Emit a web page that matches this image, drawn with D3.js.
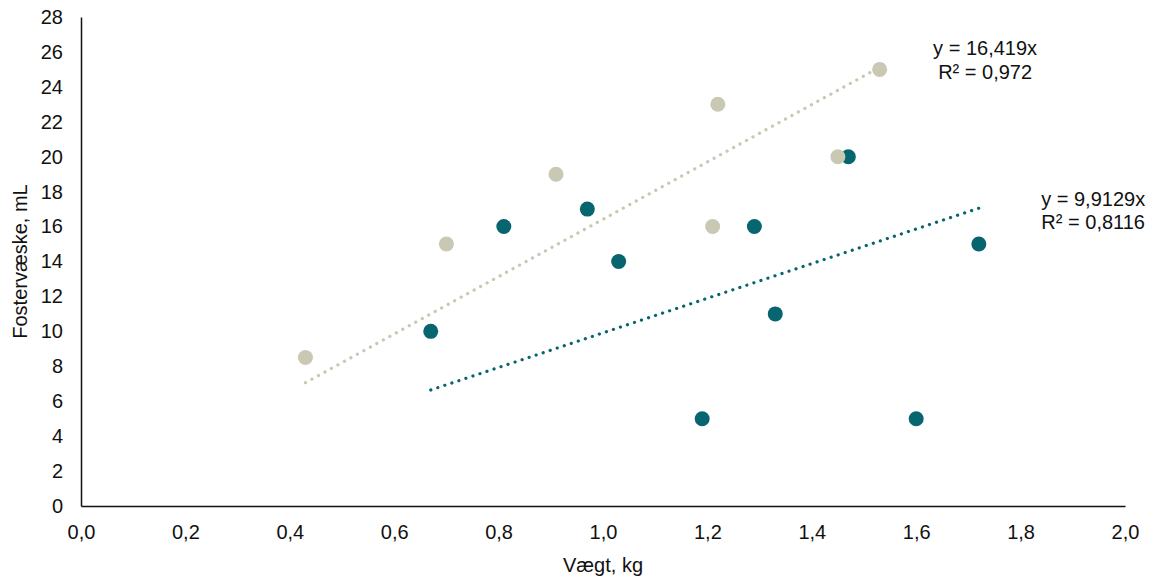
<!DOCTYPE html>
<html>
<head>
<meta charset="utf-8">
<script src="https://cdn.jsdelivr.net/npm/d3@7"></script>
<style>
  body { margin: 0; background: #fff; }
  text { font-family: "Liberation Sans", Arial, sans-serif; fill: #111; }
</style>
</head>
<body>
<div id="chart"></div>
<script>
// data
const beigeX = [0.43, 0.70, 0.91, 1.21, 1.22, 1.45, 1.53];
const beigeY = [8.5, 15, 19, 16, 23, 20, 25];
const tealX = [0.67, 0.81, 0.97, 1.03, 1.19, 1.29, 1.33, 1.47, 1.60, 1.72];
const tealY = [10, 16, 17, 14, 5, 16, 11, 20, 5, 15];
const beigeSlope = 16.419, beigeR2 = "0,972";
const tealSlope = 9.9129, tealR2 = "0,8116";
const xTicks = [0, 0.2, 0.4, 0.6, 0.8, 1.0, 1.2, 1.4, 1.6, 1.8, 2.0];
const yTicks = d3.range(0, 29, 2);

const width = 1158, height = 577;
const margin = { top: 17, right: 33, bottom: 71, left: 81 };
const beige = "#c9c8b3", teal = "#076570";
const fs = 20;

const svg = d3.select("#chart").append("svg")
  .attr("width", width).attr("height", height);

const x = d3.scaleLinear().domain([0, 2]).range([margin.left, width - margin.right]);
const y = d3.scaleLinear().domain([0, 28]).range([height - margin.bottom, margin.top]);

const comma = d => d3.format(".1f")(d).replace(".", ",");

// axes (no tick marks, only labels)
svg.append("g").attr("transform", `translate(0,${y(0)})`)
  .call(d3.axisBottom(x).tickValues(xTicks).tickFormat(comma).tickSize(0).tickPadding(19))
  .call(g => g.select(".domain").attr("stroke", "#111").attr("stroke-width", 1.5))
  .call(g => g.selectAll("text").attr("font-size", fs).attr("fill", "#111")
    .attr("font-family", "Liberation Sans, Arial, sans-serif"));

svg.append("g").attr("transform", `translate(${x(0)},0)`)
  .call(d3.axisLeft(y).tickValues(yTicks).tickSize(0).tickPadding(18))
  .call(g => g.select(".domain").attr("stroke", "#111").attr("stroke-width", 1.5))
  .call(g => g.selectAll("text").attr("font-size", fs).attr("fill", "#111")
    .attr("font-family", "Liberation Sans, Arial, sans-serif"));

// axis titles
svg.append("text").attr("x", (x(0) + x(2)) / 2).attr("y", 572)
  .attr("text-anchor", "middle").attr("font-size", fs).text("Vægt, kg");
svg.append("text").attr("transform", `translate(27,${(y(0) + y(28)) / 2}) rotate(-90)`)
  .attr("text-anchor", "middle").attr("font-size", fs).text("Fostervæske, mL");

// trendlines through the origin, from min x to max x of each series
const trend = (xs, slope, color) => {
  const x0 = d3.min(xs), x1 = d3.max(xs);
  svg.append("line")
    .attr("x1", x(x0)).attr("y1", y(slope * x0))
    .attr("x2", x(x1)).attr("y2", y(slope * x1))
    .attr("stroke", color).attr("stroke-width", 3.2)
    .attr("stroke-linecap", "round").attr("stroke-dasharray", "0.1,7.3");
};
trend(tealX, tealSlope, teal);
trend(beigeX, beigeSlope, beige);

// points
svg.append("g").selectAll("circle").data(d3.zip(tealX, tealY)).join("circle")
  .attr("cx", d => x(d[0])).attr("cy", d => y(d[1])).attr("r", 7.5).attr("fill", teal);
svg.append("g").selectAll("circle").data(d3.zip(beigeX, beigeY)).join("circle")
  .attr("cx", d => x(d[0])).attr("cy", d => y(d[1])).attr("r", 7.5).attr("fill", beige);

// trendline equations
const label = (cx, cy, lines) => {
  const t = svg.append("text").attr("text-anchor", "middle").attr("font-size", fs);
  lines.forEach((s, i) => t.append("tspan").attr("x", cx).attr("y", cy + i * 23.5).text(s));
};
label(x(1.732), y(25.82), ["y = " + String(beigeSlope).replace(".", ",") + "x", "R² = " + beigeR2]);
label(x(1.939), y(17.18), ["y = " + String(tealSlope).replace(".", ",") + "x", "R² = " + tealR2]);
</script>
</body>
</html>
